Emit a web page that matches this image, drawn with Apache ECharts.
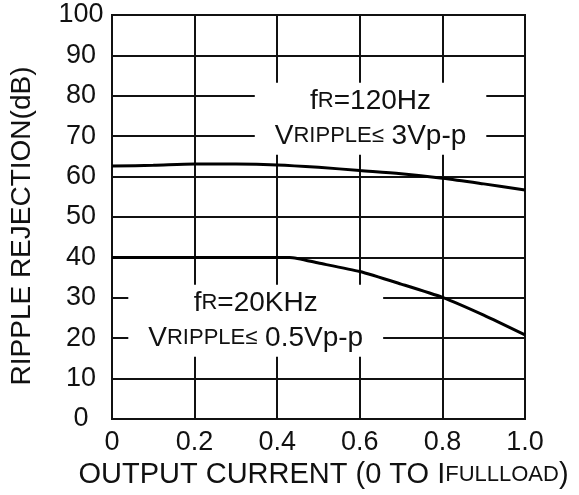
<!DOCTYPE html>
<html><head><meta charset="utf-8">
<script src="https://cdn.jsdelivr.net/npm/echarts@6/dist/echarts.min.js"></script>
<style>html,body{margin:0;padding:0;background:#fff}#c{width:579px;height:495px}</style>
</head><body><div id="c"></div>
<script>
const xTickLabels = ['0','0.2','0.4','0.6','0.8','1.0'];
const yTickLabels = ['0','10','20','30','40','50','60','70','80','90','100'];
const x120 = [0, 0.1, 0.2, 0.3, 0.4, 0.5, 0.6, 0.7, 0.8, 0.9, 1.0];
const y120 = [62.6, 62.8, 63.1, 63.1, 62.9, 62.3, 61.5, 60.7, 59.6, 58.2, 56.7];
const x20k = [0, 0.1, 0.2, 0.3, 0.43, 0.5, 0.6, 0.7, 0.8, 0.9, 1.0];
const y20k = [40, 40, 40, 40, 40, 38.6, 36.5, 33.4, 30.1, 25.7, 20.8];
const noteUpperAt = [0.626, 74.3];
const noteLowerAt = [0.348, 24.3];

const FF = '"Liberation Sans", Arial, sans-serif';
const C = '#111';
const richNote = {
  a: {fontSize: 28, fontFamily: FF, color: C, lineHeight: 35},
  b: {fontSize: 22, fontFamily: FF, color: C, lineHeight: 35}
};
const chart = echarts.init(document.getElementById('c'));
chart.setOption({
  animation: false,
  backgroundColor: '#fff',
  grid: {left: 111, right: 54, top: 15, bottom: 76, show: true, borderColor: C, borderWidth: 2, backgroundColor: 'transparent'},
  xAxis: {
    type: 'value', min: 0, max: 1, interval: 0.2,
    axisLine: {show: true, lineStyle: {color: C, width: 2}},
    axisTick: {show: false},
    splitLine: {show: true, lineStyle: {color: C, width: 2}},
    axisLabel: {
      fontSize: 27, fontFamily: FF, color: C, margin: 10,
      formatter: (v) => xTickLabels[Math.round(v / 0.2)]
    },
    name: '{a|OUTPUT CURRENT (0 TO I}{b|FULLLOAD}{a|)}',
    nameLocation: 'middle', nameGap: 40,
    nameTextStyle: {
      padding: [0, 0, 0, 10],
      rich: {
        a: {fontSize: 29, fontFamily: FF, color: C},
        b: {fontSize: 22, fontFamily: FF, color: C}
      }
    }
  },
  yAxis: {
    type: 'value', min: 0, max: 100, interval: 10,
    axisLine: {show: true, lineStyle: {color: C, width: 2}},
    axisTick: {show: false},
    splitLine: {show: true, lineStyle: {color: C, width: 2}},
    axisLabel: {
      fontSize: 27, fontFamily: FF, color: C, margin: 31, align: 'center',
      formatter: (v) => yTickLabels[Math.round(v / 10)]
    },
    name: 'RIPPLE REJECTION(dB)',
    nameLocation: 'middle', nameGap: 76,
    nameTextStyle: {fontSize: 28, fontFamily: FF, color: C, padding: [0, 18, 0, 0]}
  },
  series: [
    {
      type: 'line', data: x120.map((x, i) => [x, y120[i]]),
      showSymbol: false, smooth: 0.3,
      lineStyle: {color: '#000', width: 3}
    },
    {
      type: 'line', data: x20k.map((x, i) => [x, y20k[i]]),
      showSymbol: false, smooth: 0.2,
      lineStyle: {color: '#000', width: 3}
    },
    {
      type: 'scatter', symbolSize: 0, silent: true, z: 5,
      itemStyle: {opacity: 1},
      emphasis: {disabled: true},
      data: [
        {value: noteUpperAt, label: {formatter: '{a|f}{b|R}{a|=120Hz}\n{a|V}{b|RIPPLE≤}{a| 3Vp-p}'}},
        {value: noteLowerAt, label: {formatter: '{a|f}{b|R}{a|=20KHz}\n{a|V}{b|RIPPLE≤}{a| 0.5Vp-p}'}}
      ],
      label: {
        show: true, position: 'inside', align: 'center', verticalAlign: 'middle', opacity: 1,
        backgroundColor: '#fff', padding: [1, 20], rich: richNote
      }
    }
  ]
});
</script></body></html>
